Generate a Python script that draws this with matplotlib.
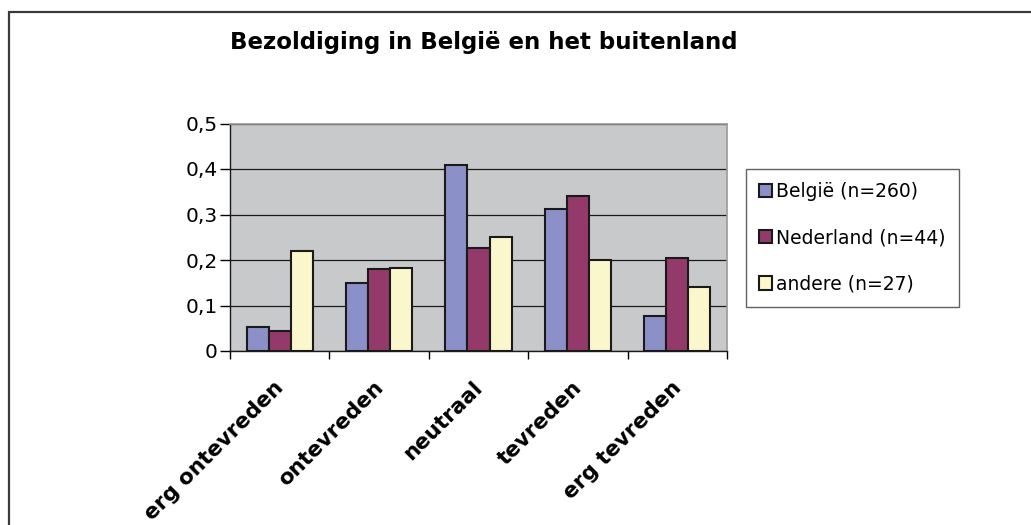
import matplotlib
matplotlib.use("Agg")
import matplotlib.pyplot as plt
import matplotlib.transforms as mtransforms
import numpy as np
from matplotlib.patches import Rectangle

plt.rcParams['font.family'] = ['DejaVu Sans']

categories = ["erg ontevreden", "ontevreden", "neutraal", "tevreden", "erg tevreden"]
series_names = ["België (n=260)", "Nederland (n=44)", "andere (n=27)"]
belgie = [0.052, 0.149, 0.408, 0.312, 0.076]
nederland = [0.044, 0.181, 0.227, 0.341, 0.204]
andere = [0.219, 0.183, 0.251, 0.201, 0.141]
yticks = [0, 0.1, 0.2, 0.3, 0.4, 0.5]
ytick_labels = ["0", "0,1", "0,2", "0,3", "0,4", "0,5"]
colors = ["#8C90C8", "#943A6A", "#FAF7CC"]

W, H = 1031, 525
fig = plt.figure(figsize=(W / 100, H / 100), dpi=100)

# outer frame (extends beyond right and bottom edges)
fig.patches.append(Rectangle((9 / W, -0.2), 1.2, 1 - 12 / H + 0.2, transform=fig.transFigure,
                             fill=False, edgecolor="#3a3a3a", linewidth=1.6))

ax = fig.add_axes([230 / W, 1 - 351 / H, (727 - 230) / W, (351 - 123.5) / H])
ax.set_facecolor("#C8C9CB")

n = len(categories)
x = np.arange(n)
bw = 1 / 4.5
for i, (vals, name) in enumerate(zip([belgie, nederland, andere], series_names)):
    ax.bar(x + (i - 1) * bw, vals, width=bw, color=colors[i], edgecolor="#1a1a1a",
           linewidth=1.5, label=name, zorder=3)

ax.set_xlim(-0.5, n - 0.5)
ax.set_ylim(0, 0.5)
ax.set_yticks(yticks)
ax.set_yticklabels(ytick_labels, fontsize=14.5)
ax.yaxis.grid(True, color="#1a1a1a", linewidth=0.9, zorder=1)
ax.set_axisbelow(True)

ax.set_xticks(np.arange(n + 1) - 0.5, minor=False)
ax.set_xticklabels([""] * (n + 1))
ax.set_xticks(x, minor=True)
ax.set_xticklabels(categories, minor=True, rotation=45, ha="right", rotation_mode="anchor",
                   fontsize=15.5, fontweight="bold")
ax.tick_params(axis="x", which="minor", length=0, pad=19)
ax.tick_params(axis="x", which="major", length=6, width=1, direction="out")
ax.tick_params(axis="y", length=7, width=1, direction="out", pad=2)
shift = mtransforms.ScaledTranslation(-6 / 100, 0, fig.dpi_scale_trans)
for lbl in ax.get_xticklabels(minor=True):
    lbl.set_transform(lbl.get_transform() + shift)

for s in ["top", "right"]:
    ax.spines[s].set_color("#9a9a9a")
    ax.spines[s].set_linewidth(1.2)
for s in ["left", "bottom"]:
    ax.spines[s].set_color("#1a1a1a")
    ax.spines[s].set_linewidth(1.0)

fig.text(484 / W, 1 - 42 / H, "Bezoldiging in België en het buitenland", ha="center", va="center",
         fontsize=16.5, fontweight="bold")

leg = fig.legend(loc="upper left", bbox_to_anchor=(746 / W, 1 - 169 / H), fontsize=13.5,
                 frameon=True, fancybox=False, edgecolor="#3a3a3a", handlelength=0.7,
                 handleheight=0.7, handletextpad=0.2, labelspacing=1.45, borderpad=0.7,
                 borderaxespad=0)
leg.get_frame().set_linewidth(1.0)

fig.savefig("out.png", dpi=100, facecolor="white")
